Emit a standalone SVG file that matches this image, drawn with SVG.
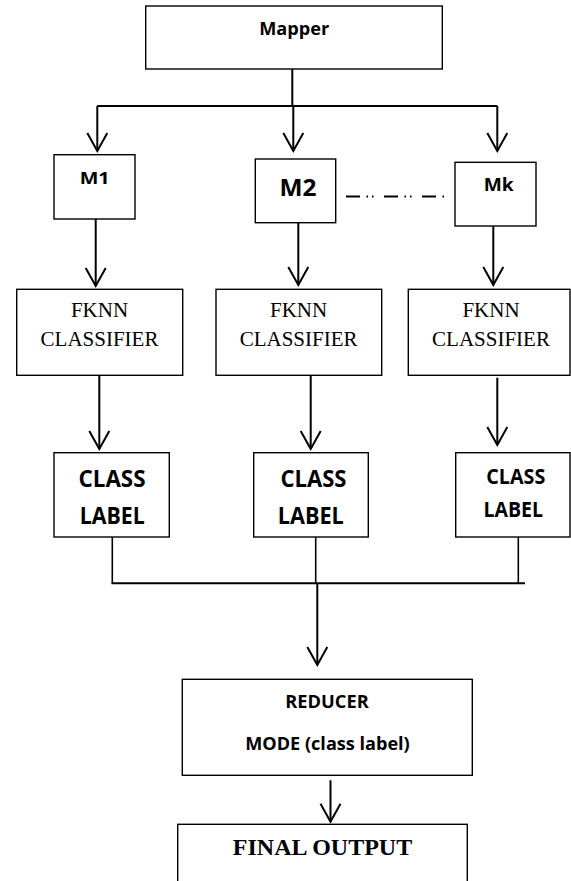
<svg xmlns="http://www.w3.org/2000/svg" width="571" height="881" viewBox="0 0 571 881">
<style>
.box{fill:#fff;stroke:#000;stroke-width:1.4}
.c{fill:none;stroke:#000;stroke-width:2}
.s{font-family:"Open Sans",Lato,"Liberation Sans",sans-serif;font-weight:bold;text-anchor:middle;fill:#000}
.r{font-family:"Liberation Serif","Times New Roman",serif;text-anchor:middle;fill:#000}
</style>
<defs>
<marker id="arr" markerUnits="userSpaceOnUse" viewBox="-20 -12 22 24" markerWidth="22" markerHeight="24" refX="0" refY="0" orient="auto" overflow="visible">
<path d="M-18,-10 L0,0 L-18,10" fill="none" stroke="#000" stroke-width="2"/>
</marker>
</defs>
<rect x="0" y="0" width="571" height="881" fill="#fff"/>
<g id="connectors">
<path class="c" d="M292.3,69 V106"/>
<path class="c" d="M97.3,106 H497.3"/>
<path class="c" d="M97.3,106 V151" marker-end="url(#arr)"/>
<path class="c" d="M293.3,106 V151" marker-end="url(#arr)"/>
<path class="c" d="M497.3,106 V151" marker-end="url(#arr)"/>
<path d="M346,196.5 H447" fill="none" stroke="#000" stroke-width="1.8" stroke-dasharray="14 6.5 1.5 4 1.5 10.5"/>
<path class="c" d="M95.7,219 V286" marker-end="url(#arr)"/>
<path class="c" d="M298.3,222.7 V285" marker-end="url(#arr)"/>
<path class="c" d="M493.3,226 V285" marker-end="url(#arr)"/>
<path class="c" d="M99.3,375.3 V449" marker-end="url(#arr)"/>
<path class="c" d="M310.7,375.3 V449" marker-end="url(#arr)"/>
<path class="c" d="M497.3,377.7 V445" marker-end="url(#arr)"/>
<path class="c" style="stroke-width:1.6" d="M112.3,537 V583.3"/>
<path class="c" style="stroke-width:1.6" d="M315.7,537 V583.3"/>
<path class="c" style="stroke-width:1.6" d="M518.3,537 V583.3"/>
<path class="c" d="M111.5,583.3 H525"/>
<path class="c" d="M317.3,583.3 V665" marker-end="url(#arr)"/>
<path class="c" d="M330.5,780.3 V821.7" marker-end="url(#arr)"/>
</g>
<g id="mapper">
<rect class="box" x="145.7" y="6" width="296.6" height="63"/>
<text class="s" x="294.2" y="35" font-size="17.5" textLength="70" lengthAdjust="spacingAndGlyphs">Mapper</text>
</g>
<g id="m1">
<rect class="box" x="54" y="154.7" width="81" height="64.3"/>
<text class="s" x="94.7" y="184.3" font-size="15.5" textLength="30" lengthAdjust="spacingAndGlyphs">M1</text>
</g>
<g id="m2">
<rect class="box" x="255.3" y="159" width="80.4" height="63.7"/>
<text class="s" x="298" y="196" font-size="22.5" textLength="37" lengthAdjust="spacingAndGlyphs">M2</text>
</g>
<g id="mk">
<rect class="box" x="455" y="162.3" width="81" height="63.7"/>
<text class="s" x="498.7" y="191" font-size="17.5" textLength="30" lengthAdjust="spacingAndGlyphs">Mk</text>
</g>
<g id="fknn1">
<rect class="box" x="16.7" y="289.3" width="166" height="86"/>
<text class="r" x="99.5" y="317.3" font-size="21">FKNN</text>
<text class="r" x="99.5" y="346" font-size="21">CLASSIFIER</text>
</g>
<g id="fknn2">
<rect class="box" x="216" y="289.3" width="165.7" height="86"/>
<text class="r" x="298.6" y="317.3" font-size="21">FKNN</text>
<text class="r" x="298.6" y="346" font-size="21">CLASSIFIER</text>
</g>
<g id="fknn3">
<rect class="box" x="408.3" y="289.3" width="161.7" height="86"/>
<text class="r" x="491" y="317.3" font-size="21">FKNN</text>
<text class="r" x="491" y="346" font-size="21">CLASSIFIER</text>
</g>
<g id="label1">
<rect class="box" x="54" y="452.7" width="115.3" height="84.3"/>
<text class="s" x="112" y="487" font-size="22.5" textLength="67" lengthAdjust="spacingAndGlyphs">CLASS</text>
<text class="s" x="112.2" y="524" font-size="22.5" textLength="65" lengthAdjust="spacingAndGlyphs">LABEL</text>
</g>
<g id="label2">
<rect class="box" x="253.7" y="452.7" width="114.6" height="84.3"/>
<text class="s" x="313.5" y="486.7" font-size="22.5" textLength="66" lengthAdjust="spacingAndGlyphs">CLASS</text>
<text class="s" x="310.8" y="523.5" font-size="22.5" textLength="66" lengthAdjust="spacingAndGlyphs">LABEL</text>
</g>
<g id="label3">
<rect class="box" x="455.7" y="452.7" width="114.3" height="84.3"/>
<text class="s" x="515.8" y="484.3" font-size="21" textLength="59" lengthAdjust="spacingAndGlyphs">CLASS</text>
<text class="s" x="513.3" y="517.3" font-size="21" textLength="59.5" lengthAdjust="spacingAndGlyphs">LABEL</text>
</g>
<g id="reducer">
<rect class="box" x="182.3" y="679.3" width="290" height="96"/>
<text class="s" x="327" y="707.7" font-size="17.5" textLength="83.5" lengthAdjust="spacingAndGlyphs">REDUCER</text>
<text class="s" x="327.5" y="750" font-size="17.5" textLength="164.5" lengthAdjust="spacingAndGlyphs">MODE (class label)</text>
</g>
<g id="final">
<rect class="box" x="177.7" y="824.3" width="289.6" height="80"/>
<text class="r" x="322.5" y="854.5" font-size="24" font-weight="bold">FINAL OUTPUT</text>
</g>
</svg>
